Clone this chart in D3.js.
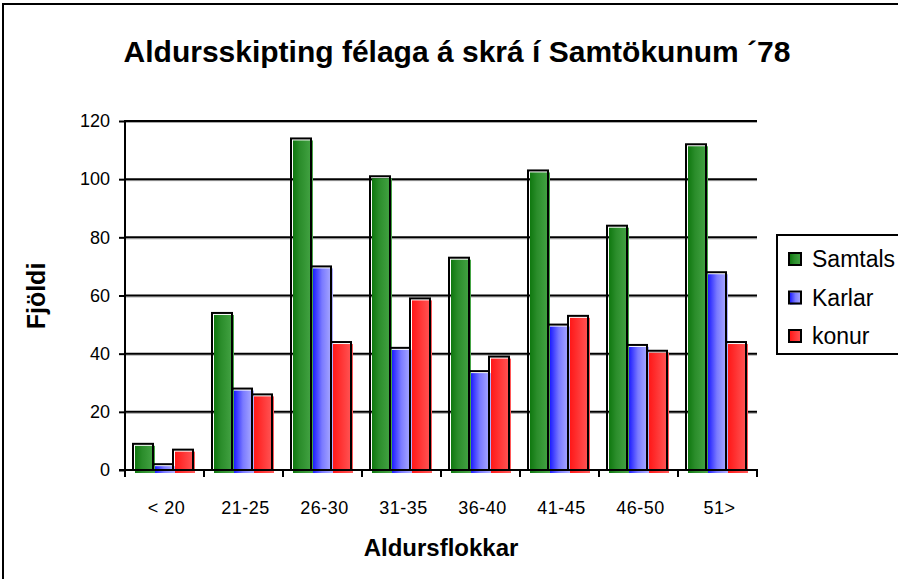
<!DOCTYPE html>
<html>
<head>
<meta charset="utf-8">
<script src="https://cdn.jsdelivr.net/npm/d3@7"></script>
<style>
  body { margin: 0; background: #fff; }
  svg { display: block; font-family: "Liberation Sans", Arial, sans-serif; }
</style>
</head>
<body>
<script>
// chart data
const categories = ["< 20", "21-25", "26-30", "31-35", "36-40", "41-45", "46-50", "51>"];
const seriesNames = ["Samtals", "Karlar", "konur"];
const samtals = [9, 54, 114, 101, 73, 103, 84, 112];
const karlar = [2, 28, 70, 42, 34, 50, 43, 68];
const konur = [7, 26, 44, 59, 39, 53, 41, 44];
const yTicks = [0, 20, 40, 60, 80, 100, 120];

const width = 898,
  height = 579;

const plot = { left: 125, right: 757, top: 121, bottom: 470 };

const svg = d3
  .select("body")
  .append("svg")
  .attr("width", width)
  .attr("height", height);

// gradients for the bars, dark on the left and lighter on the right
const gradStops = {
  Samtals: [["0%", "#0f780f"], ["35%", "#2b8d2b"], ["100%", "#47a647"]],
  Karlar: [["0%", "#1c1cff"], ["45%", "#7a7aff"], ["100%", "#b0b0ff"]],
  konur: [["0%", "#ff1818"], ["50%", "#ff3a3a"], ["100%", "#ff5a5a"]],
};
const defs = svg.append("defs");
seriesNames.forEach((name, i) => {
  const g = defs
    .append("linearGradient")
    .attr("id", "grad" + i)
    .attr("x1", "0%")
    .attr("x2", "100%")
    .attr("y1", "0%")
    .attr("y2", "0%");
  gradStops[name].forEach((s) => g.append("stop").attr("offset", s[0]).attr("stop-color", s[1]));
});

// outer frame (runs off the right and bottom edge like the original)
svg
  .append("rect")
  .attr("x", 3)
  .attr("y", 4)
  .attr("width", 920)
  .attr("height", 620)
  .attr("fill", "none")
  .attr("stroke", "#000")
  .attr("stroke-width", 2);

const x = d3.scaleBand().domain(categories).range([plot.left, plot.right]);
const xs = d3.scaleBand().domain(seriesNames).range([8, 68]);
const y = d3.scaleLinear().domain([0, 120]).range([plot.bottom, plot.top]);

// gridlines, with a faint grey line under each
const grid = svg.append("g");
grid
  .selectAll("line.shadow")
  .data(yTicks.slice(1))
  .join("line")
  .attr("class", "shadow")
  .attr("x1", plot.left)
  .attr("x2", plot.right)
  .attr("y1", (d) => y(d) + 1.5)
  .attr("y2", (d) => y(d) + 1.5)
  .attr("stroke", "#aaa")
  .attr("stroke-width", 1);
grid
  .selectAll("line.main")
  .data(yTicks.slice(1))
  .join("line")
  .attr("class", "main")
  .attr("x1", plot.left)
  .attr("x2", plot.right)
  .attr("y1", (d) => y(d))
  .attr("y2", (d) => y(d))
  .attr("stroke", "#000")
  .attr("stroke-width", 2);

// bars
const rows = categories.map((c, i) => ({
  cat: c,
  vals: [samtals[i], karlar[i], konur[i]],
}));

const group = svg
  .append("g")
  .selectAll("g")
  .data(rows)
  .join("g")
  .attr("transform", (d) => `translate(${x(d.cat)},0)`);

group.each(function (d) {
  const g = d3.select(this);
  seriesNames.forEach((name, i) => {
    const bx = xs(name),
      bw = xs.bandwidth(),
      top = y(d.vals[i]);
    g.append("rect")
      .attr("x", bx + 2)
      .attr("y", top + 2)
      .attr("width", bw)
      .attr("height", plot.bottom + 3 - top - 2)
      .attr("fill", `url(#grad${i})`);
    g.append("rect")
      .attr("x", bx)
      .attr("y", top)
      .attr("width", bw)
      .attr("height", plot.bottom - top)
      .attr("fill", "none")
      .attr("stroke", "#000")
      .attr("stroke-width", 2);
  });
});

// y axis
const yAxis = svg
  .append("g")
  .attr("transform", `translate(${plot.left},0)`)
  .call(d3.axisLeft(y).tickValues(yTicks).tickSize(6).tickPadding(9));
yAxis.select(".domain").attr("stroke-width", 2).attr("d", `M0,${plot.top - 1}V${plot.bottom}`);
yAxis.selectAll(".tick line").attr("stroke-width", 2);
yAxis
  .selectAll("text")
  .attr("font-size", 18)
  .attr("fill", "#000")
  .attr("font-family", "Liberation Sans, Arial");

// x axis: ticks between categories
const xAxisG = svg.append("g");
xAxisG
  .append("line")
  .attr("x1", plot.left - 6)
  .attr("x2", plot.right + 1)
  .attr("y1", plot.bottom)
  .attr("y2", plot.bottom)
  .attr("stroke", "#000")
  .attr("stroke-width", 2);
xAxisG
  .selectAll("line.tk")
  .data(categories.map((c) => x(c)).concat([plot.right]))
  .join("line")
  .attr("class", "tk")
  .attr("x1", (d) => d)
  .attr("x2", (d) => d)
  .attr("y1", plot.bottom)
  .attr("y2", plot.bottom + 7)
  .attr("stroke", "#000")
  .attr("stroke-width", 2);
xAxisG
  .selectAll("text")
  .data(categories)
  .join("text")
  .attr("x", (d) => x(d) + x.bandwidth() / 2 + 2)
  .attr("y", 514)
  .attr("text-anchor", "middle")
  .attr("font-size", 18)
  .attr("letter-spacing", 0.5)
  .text((d) => d);

// titles
svg
  .append("text")
  .attr("x", 457)
  .attr("y", 62)
  .attr("text-anchor", "middle")
  .attr("font-size", 30)
  .attr("font-weight", "bold")
  .text("Aldursskipting félaga á skrá í Samtökunum ´78");

svg
  .append("text")
  .attr("x", 441)
  .attr("y", 556)
  .attr("text-anchor", "middle")
  .attr("font-size", 24)
  .attr("font-weight", "bold")
  .text("Aldursflokkar");

svg
  .append("text")
  .attr("transform", "translate(45,296) rotate(-90)")
  .attr("text-anchor", "middle")
  .attr("font-size", 25)
  .attr("font-weight", "bold")
  .text("Fjöldi");

// legend
const legend = svg.append("g").attr("transform", "translate(777,235)");
legend
  .append("rect")
  .attr("width", 150)
  .attr("height", 119)
  .attr("fill", "#fff")
  .attr("stroke", "#000")
  .attr("stroke-width", 2);
const item = legend
  .selectAll("g")
  .data(seriesNames)
  .join("g")
  .attr("transform", (d, i) => `translate(12,${24 + i * 38.5})`);
item
  .append("rect")
  .attr("x", 1)
  .attr("y", -5)
  .attr("width", 12)
  .attr("height", 12)
  .attr("fill", (d, i) => `url(#grad${i})`);
item
  .append("rect")
  .attr("x", 0)
  .attr("y", -6)
  .attr("width", 12)
  .attr("height", 12)
  .attr("fill", "none")
  .attr("stroke", "#000")
  .attr("stroke-width", 2);
item
  .append("text")
  .attr("x", 23)
  .attr("y", 8)
  .attr("font-size", 23)
  .text((d) => d);
</script>
</body>
</html>
